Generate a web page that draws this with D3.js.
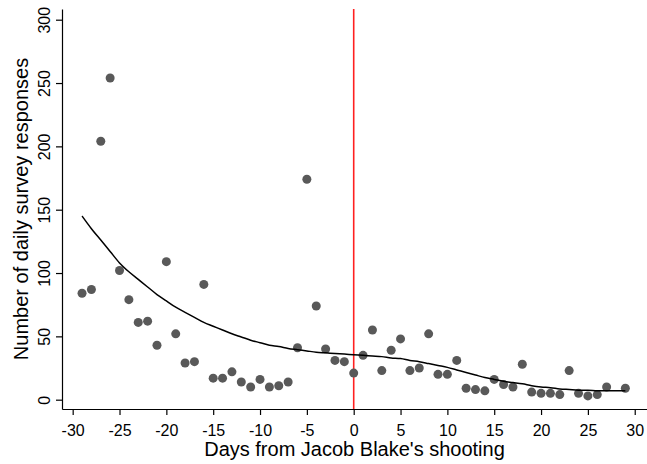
<!DOCTYPE html>
<html>
<head>
<meta charset="utf-8">
<script src="https://cdn.jsdelivr.net/npm/d3@7"></script>
<style>
  html, body { margin: 0; padding: 0; background: #fff; }
  svg { display: block; font-family: "Liberation Sans", Arial, Helvetica, sans-serif; }
</style>
</head>
<body>
<svg id="chart" width="647" height="464"></svg>
<script>
// Days relative to the shooting and daily survey response counts
const days = [-29,-28,-27,-26,-25,-24,-23,-22,-21,-20,-19,-18,-17,-16,-15,-14,-13,-12,-11,-10,-9,-8,-7,-6,-5,-4,-3,-2,-1,0,
              1,2,3,4,5,6,7,8,9,10,11,12,13,14,15,16,17,18,19,20,21,22,23,24,25,26,27,29];
const responses = [84,87,204,254,102,79,61,62,43,109,52,29,30,91,17,17,22,14,10,16,10,11,14,41,174,74,40,31,30,21,
                   35,55,23,39,48,23,25,52,20,20,31,9,8,7,16,12,10,28,6,5,5,4,23,5,3,4,10,9];

// Smoothed (lowess) fit
const fitDays = [-29,-28,-27,-26,-25,-24,-23,-22,-21,-20,-19,-18,-17,-16,-15,-14,-13,-12,-11,-10,-9,-8,-7,-6,-5,-4,-3,-2,-1,0,
                 1,2,3,4,5,6,7,8,9,10,11,12,13,14,15,16,17,18,19,20,21,22,23,24,25,26,27,29];
const fitValues = [145,135,126,117,108,101,95,89,83,78,73,69,65,61,58,55,52,49.5,47,45,43,42,40.5,39.5,38.5,37.5,37,36.5,36,35.5,
                   35,34.5,34,33,32.5,31,30,28.5,27,25.5,23.5,21.5,19.5,17.5,16,14.5,13.5,12.5,11,10,9.5,8.5,8,7.5,7.5,7,7,7];

const xTicks = [-30,-25,-20,-15,-10,-5,0,5,10,15,20,25,30];
const xTickLabels = ["-30","-25","-20","-15","-10","-5","0","5","10","15","20","25","30"];
const yTicks = [0,50,100,150,200,250,300];
const yTickLabels = ["0","50","100","150","200","250","300"];
const eventDay = 0;

const svg = d3.select("#chart");
const pL = 62, pR = 647, pT = 9, pB = 409;

const x = d3.scaleLinear().domain([-31.14, 31.31]).range([pL, pR]);
const y = d3.scaleLinear().domain([-7.35, 308.45]).range([pB, pT]);

// X axis
const xAxis = svg.append("g")
  .attr("transform", `translate(0,${pB})`)
  .call(d3.axisBottom(x).tickValues(xTicks)
    .tickFormat((d, i) => xTickLabels[i])
    .tickSize(6).tickPadding(9.5).tickSizeOuter(0));
xAxis.select(".domain").attr("stroke", "#000").attr("stroke-width", 1.2);
xAxis.selectAll(".tick line").attr("stroke", "#000").attr("stroke-width", 1.2);
xAxis.selectAll(".tick text").attr("font-size", 16).attr("fill", "#000")
  .attr("font-family", "'Liberation Sans', Arial, sans-serif");

// Y axis
const yAxis = svg.append("g")
  .attr("transform", `translate(${pL},0)`)
  .call(d3.axisLeft(y).tickValues(yTicks)
    .tickFormat((d, i) => yTickLabels[i])
    .tickSize(6).tickSizeOuter(0));
yAxis.select(".domain").attr("stroke", "#000").attr("stroke-width", 1.2);
yAxis.selectAll(".tick line").attr("stroke", "#000").attr("stroke-width", 1.2);
yAxis.selectAll(".tick text")
  .attr("font-size", 16).attr("fill", "#000")
  .attr("font-family", "'Liberation Sans', Arial, sans-serif")
  .attr("x", null).attr("dy", null)
  .attr("text-anchor", "middle")
  .attr("transform", `translate(${50 - pL},0) rotate(-90)`);

// Event line
svg.append("line")
  .attr("x1", x(eventDay)).attr("x2", x(eventDay))
  .attr("y1", pT).attr("y2", pB)
  .attr("stroke", "#ff2020").attr("stroke-width", 1.6);

// Points
svg.append("g").selectAll("circle")
  .data(days.map((d, i) => ({ d, v: responses[i] })))
  .join("circle")
  .attr("cx", p => x(p.d)).attr("cy", p => y(p.v))
  .attr("r", 4.5).attr("fill", "#595959");

// Fit line
const line = d3.line().x(p => x(p.d)).y(p => y(p.v)).curve(d3.curveMonotoneX);
svg.append("path")
  .datum(fitDays.map((d, i) => ({ d, v: fitValues[i] })))
  .attr("d", line)
  .attr("fill", "none").attr("stroke", "#000").attr("stroke-width", 1.5);

// Axis titles
svg.append("text")
  .attr("x", (pL + pR) / 2).attr("y", 455.5)
  .attr("text-anchor", "middle").attr("font-size", 20).attr("fill", "#000")
  .text("Days from Jacob Blake's shooting");

svg.append("text")
  .attr("transform", `translate(28,${(pT + pB) / 2}) rotate(-90)`)
  .attr("text-anchor", "middle").attr("font-size", 20).attr("fill", "#000")
  .text("Number of daily survey responses");
</script>
</body>
</html>
